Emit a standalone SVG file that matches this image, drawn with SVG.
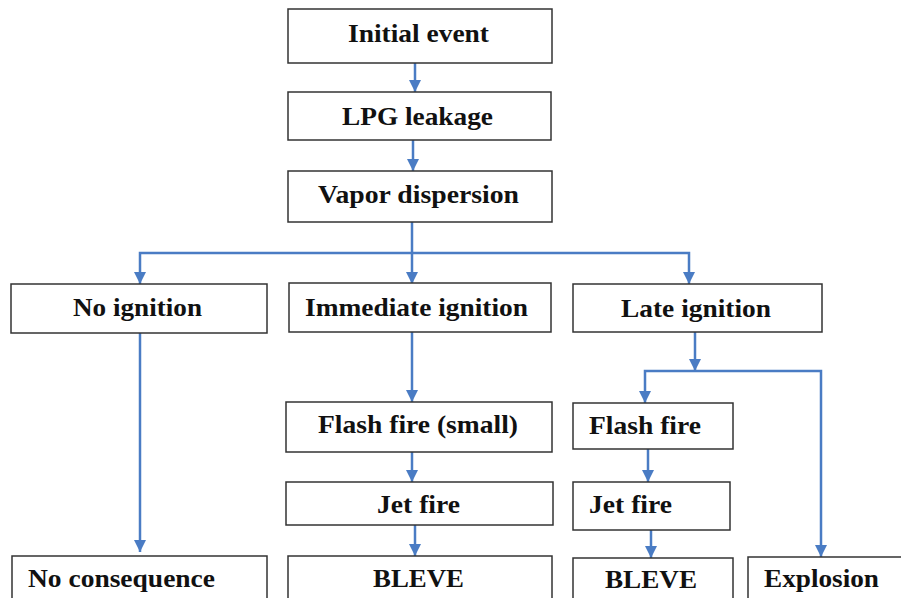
<svg xmlns="http://www.w3.org/2000/svg" width="901" height="598" viewBox="0 0 901 598">
<style>
.box{fill:#fff;stroke:#333;stroke-width:1.5}
.t{font-family:'Liberation Serif','Times New Roman','DejaVu Serif',serif;font-weight:700;font-size:26px;fill:#111}
.c{text-anchor:middle}
.ln{fill:none;stroke:#4a7cc4;stroke-width:2.5}
</style>
<defs>
<marker id="ah" markerUnits="userSpaceOnUse" markerWidth="14" markerHeight="12" refX="12" refY="6" orient="auto">
<path d="M0,0 L12,6 L0,12 Z" fill="#4a7cc4"/>
</marker>
</defs>
<rect width="901" height="598" fill="#fff"/>
<g id="connectors">
<path class="ln" d="M415,63 V92" marker-end="url(#ah)"/>
<path class="ln" d="M413,140 V171" marker-end="url(#ah)"/>
<path class="ln" d="M412,222 V284" marker-end="url(#ah)"/>
<path class="ln" d="M412,253 H140 V284" marker-end="url(#ah)"/>
<path class="ln" d="M412,253 H689 V284" marker-end="url(#ah)"/>
<path class="ln" d="M140,333 V552" marker-end="url(#ah)"/>
<path class="ln" d="M412,332 V402" marker-end="url(#ah)"/>
<path class="ln" d="M412,452 V482" marker-end="url(#ah)"/>
<path class="ln" d="M415,525 V556" marker-end="url(#ah)"/>
<path class="ln" d="M695,332 V371" marker-end="url(#ah)"/>
<path class="ln" d="M695,371 H645 V403" marker-end="url(#ah)"/>
<path class="ln" d="M695,371 H821 V557" marker-end="url(#ah)"/>
<path class="ln" d="M648,449 V482" marker-end="url(#ah)"/>
<path class="ln" d="M651,530 V558" marker-end="url(#ah)"/>
</g>
<g id="n1"><rect class="box" x="288" y="9" width="264" height="54"/><text class="t" x="348" y="42" textLength="141" lengthAdjust="spacingAndGlyphs">Initial event</text></g>
<g id="n2"><rect class="box" x="288" y="92" width="263" height="48"/><text class="t" x="342" y="125" textLength="151" lengthAdjust="spacingAndGlyphs">LPG leakage</text></g>
<g id="n3"><rect class="box" x="288" y="171" width="264" height="51"/><text class="t" x="318" y="203" textLength="201" lengthAdjust="spacingAndGlyphs">Vapor dispersion</text></g>
<g id="n4"><rect class="box" x="11" y="284" width="256" height="49"/><text class="t" x="73" y="316" textLength="129" lengthAdjust="spacingAndGlyphs">No ignition</text></g>
<g id="n5"><rect class="box" x="289" y="283" width="262" height="49"/><text class="t" x="305" y="316" textLength="223" lengthAdjust="spacingAndGlyphs">Immediate ignition</text></g>
<g id="n6"><rect class="box" x="573" y="284" width="249" height="48"/><text class="t" x="621" y="317" textLength="150" lengthAdjust="spacingAndGlyphs">Late ignition</text></g>
<g id="n7"><rect class="box" x="286" y="402" width="266" height="50"/><text class="t" x="318" y="433" textLength="200" lengthAdjust="spacingAndGlyphs">Flash fire (small)</text></g>
<g id="n8"><rect class="box" x="286" y="482" width="267" height="43"/><text class="t" x="377" y="513" textLength="83" lengthAdjust="spacingAndGlyphs">Jet fire</text></g>
<g id="n9"><rect class="box" x="288" y="556" width="264" height="50"/><text class="t" x="373" y="587" textLength="91" lengthAdjust="spacingAndGlyphs">BLEVE</text></g>
<g id="n10"><rect class="box" x="12" y="556" width="255" height="50"/><text class="t" x="28" y="587" textLength="187" lengthAdjust="spacingAndGlyphs">No consequence</text></g>
<g id="n11"><rect class="box" x="573" y="403" width="160" height="46"/><text class="t" x="589" y="434" textLength="112" lengthAdjust="spacingAndGlyphs">Flash fire</text></g>
<g id="n12"><rect class="box" x="573" y="482" width="157" height="48"/><text class="t" x="589" y="513" textLength="83" lengthAdjust="spacingAndGlyphs">Jet fire</text></g>
<g id="n13"><rect class="box" x="573" y="558" width="160" height="50"/><text class="t" x="605" y="588" textLength="92" lengthAdjust="spacingAndGlyphs">BLEVE</text></g>
<g id="n14"><rect class="box" x="748" y="557" width="160" height="50"/><text class="t" x="764" y="587" textLength="115" lengthAdjust="spacingAndGlyphs">Explosion</text></g>
</svg>
